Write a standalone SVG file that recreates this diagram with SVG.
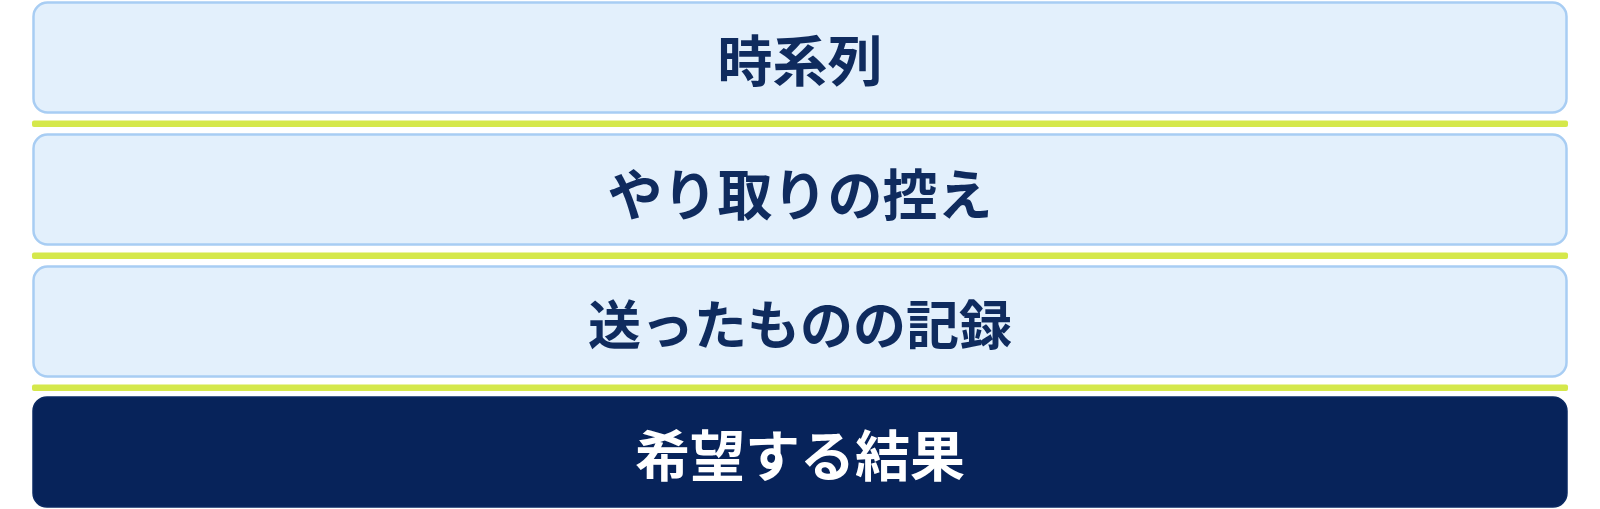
<svg xmlns="http://www.w3.org/2000/svg" width="1600" height="509" viewBox="0 0 1600 509">
  <style>
    .box { fill: #E3F0FC; stroke: #A8CDF3; stroke-width: 2.5; }
    .dark { fill: #07235A; stroke: #0B2A63; stroke-width: 1.5; }
    .sep { fill: #D5E84B; }
    .lbl { font-family: "Noto Sans CJK JP", "Noto Sans", sans-serif; font-weight: 700; font-size: 55px; text-anchor: middle; dominant-baseline: central; }
    .lbl-light { fill: #0F2B5E; }
    .lbl-dark { fill: #FFFFFF; }
  </style>
  <rect width="1600" height="509" fill="#FFFFFF"/>
  <g id="connectors">
    <rect class="sep" x="32" y="120.5" width="1536" height="6.5" rx="2"/>
    <rect class="sep" x="32" y="252.5" width="1536" height="6.5" rx="2"/>
    <rect class="sep" x="32" y="384.5" width="1536" height="6.5" rx="2"/>
  </g>
  <g id="node-jikeiretsu">
    <rect class="box" x="33.5" y="2.5" width="1533" height="110" rx="14"/>
    <text class="lbl lbl-light" x="800" y="57">時系列</text>
  </g>
  <g id="node-yaritori">
    <rect class="box" x="33.5" y="134.5" width="1533" height="110" rx="14"/>
    <text class="lbl lbl-light" x="800" y="191">やり取りの控え</text>
  </g>
  <g id="node-kiroku">
    <rect class="box" x="33.5" y="266.5" width="1533" height="110" rx="14"/>
    <text class="lbl lbl-light" x="800" y="322" style="font-size:53px">送ったものの記録</text>
  </g>
  <g id="node-kekka">
    <rect class="dark" x="33" y="397" width="1534" height="110" rx="14"/>
    <text class="lbl lbl-dark" x="800" y="452">希望する結果</text>
  </g>
</svg>
